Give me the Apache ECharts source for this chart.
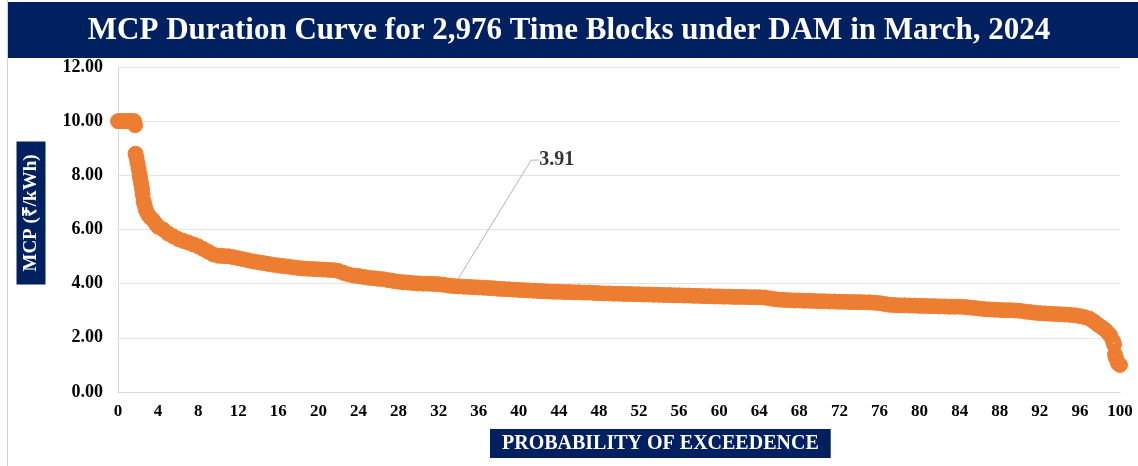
<!DOCTYPE html>
<html>
<head>
<meta charset="utf-8">
<title>MCP Duration Curve</title>
<script src="https://cdn.jsdelivr.net/npm/echarts@6/dist/echarts.min.js"></script>
<style>
  html, body { margin: 0; padding: 0; background: #fff; }
  #chart { width: 1138px; height: 466px; }
</style>
</head>
<body>
<div id="chart"></div>
<script>
// [probability of exceedence %, MCP Rs/kWh]
const capBlocks = [
  [0, 10.00], [0.2, 10.00], [0.4, 10.00], [0.6, 10.00], [0.8, 10.00],
  [1.0, 10.00], [1.2, 10.00], [1.4, 10.00], [1.6, 10.00], [1.7, 9.85]
]
const steepDrop = [
  [1.75, 8.80], [1.85, 8.65], [1.95, 8.45], [2.05, 8.25], [2.15, 8.05],
  [2.2, 7.90], [2.3, 7.70], [2.4, 7.50], [2.45, 7.30], [2.55, 7.05],
  [2.65, 6.90], [2.8, 6.70], [3.0, 6.55], [3.2, 6.45], [3.5, 6.35],
  [3.8, 6.20], [4.0, 6.10]
]
const bodyCurve = [
  [4.5, 6.00], [5.0, 5.85], [5.5, 5.75], [6.0, 5.65], [6.5, 5.58],
  [7.0, 5.52], [7.5, 5.45], [8.0, 5.38], [8.5, 5.28], [9.0, 5.18],
  [9.5, 5.08], [10.0, 5.03], [10.5, 5.02], [11.0, 5.01], [11.5, 4.98],
  [12.0, 4.94], [12.5, 4.90], [13.0, 4.86], [13.5, 4.82], [14.0, 4.79],
  [14.5, 4.76], [15.0, 4.73], [15.5, 4.70], [16.0, 4.67], [16.5, 4.65],
  [17.0, 4.63], [17.5, 4.60], [18.0, 4.58], [18.5, 4.56], [19.0, 4.55],
  [19.5, 4.54], [20.0, 4.53], [20.5, 4.52], [21.0, 4.51], [21.5, 4.50],
  [22.0, 4.47], [22.5, 4.40], [23.0, 4.34], [23.5, 4.30], [24.0, 4.28],
  [24.5, 4.25], [25.0, 4.22], [25.5, 4.20], [26.0, 4.18], [26.5, 4.16],
  [27.0, 4.13], [27.5, 4.10], [28.0, 4.07], [28.5, 4.05], [29.0, 4.04],
  [29.5, 4.02], [30.0, 4.01], [30.5, 4.00], [31.0, 4.00], [31.5, 3.99],
  [32.0, 3.98], [32.5, 3.96], [33.0, 3.93], [33.5, 3.91], [34.0, 3.90],
  [34.5, 3.89], [35.0, 3.88], [35.5, 3.87], [36.0, 3.86], [36.5, 3.85],
  [37.0, 3.84], [37.5, 3.83], [38.0, 3.81], [38.5, 3.80], [39.0, 3.79],
  [39.5, 3.78], [40.0, 3.77], [40.5, 3.76], [41.0, 3.75], [41.5, 3.74],
  [42.0, 3.73], [42.5, 3.72], [43.0, 3.71], [43.5, 3.70], [44.0, 3.70],
  [44.5, 3.69], [45.0, 3.69], [45.5, 3.68], [46.0, 3.68], [46.5, 3.67],
  [47.0, 3.67], [47.5, 3.66], [48.0, 3.65], [48.5, 3.64], [49.0, 3.64],
  [49.5, 3.63], [50.0, 3.63], [50.5, 3.62], [51.0, 3.62], [51.5, 3.61],
  [52.0, 3.61], [52.5, 3.60], [53.0, 3.60], [53.5, 3.59], [54.0, 3.59],
  [54.5, 3.58], [55.0, 3.58], [55.5, 3.57], [56.0, 3.57], [56.5, 3.56],
  [57.0, 3.56], [57.5, 3.55], [58.0, 3.55], [58.5, 3.54], [59.0, 3.54],
  [59.5, 3.53], [60.0, 3.53], [60.5, 3.52], [61.0, 3.52], [61.5, 3.51],
  [62.0, 3.51], [62.5, 3.51], [63.0, 3.50], [63.5, 3.50], [64.0, 3.50],
  [64.5, 3.49], [65.0, 3.46], [65.5, 3.43], [66.0, 3.41], [66.5, 3.40],
  [67.0, 3.39], [67.5, 3.38], [68.0, 3.38], [68.5, 3.37], [69.0, 3.37],
  [69.5, 3.36], [70.0, 3.35], [70.5, 3.35], [71.0, 3.34], [71.5, 3.34],
  [72.0, 3.33], [72.5, 3.33], [73.0, 3.32], [73.5, 3.32], [74.0, 3.32],
  [74.5, 3.31], [75.0, 3.31], [75.5, 3.30], [76.0, 3.28], [76.5, 3.25],
  [77.0, 3.22], [77.5, 3.21], [78.0, 3.20], [78.5, 3.20], [79.0, 3.19],
  [79.5, 3.19], [80.0, 3.18], [80.5, 3.18], [81.0, 3.17], [81.5, 3.17],
  [82.0, 3.16], [82.5, 3.16], [83.0, 3.15], [83.5, 3.15], [84.0, 3.15],
  [84.5, 3.14], [85.0, 3.12], [85.5, 3.10], [86.0, 3.08], [86.5, 3.06],
  [87.0, 3.05], [87.5, 3.04], [88.0, 3.03], [88.5, 3.02], [89.0, 3.02],
  [89.5, 3.01], [90.0, 3.00], [90.5, 2.97], [91.0, 2.95], [91.5, 2.93],
  [92.0, 2.91], [92.5, 2.90], [93.0, 2.89], [93.5, 2.88], [94.0, 2.87],
  [94.5, 2.86], [95.0, 2.85], [95.5, 2.83], [96.0, 2.80], [96.5, 2.76],
  [97.0, 2.70]
]
const tailDrop = [
  [97.4, 2.60], [97.8, 2.48], [98.2, 2.38], [98.5, 2.30], [98.8, 2.18],
  [99.0, 2.10], [99.3, 1.88], [99.4, 1.75], [99.5, 1.38], [99.6, 1.25],
  [99.8, 1.06], [100, 1.00]
]
const callout = [[33.5, 3.91]]

const titleText = 'MCP Duration Curve for 2,976 Time Blocks under DAM in March, 2024'
const yName = 'MCP (₹/kWh)'
const xName = 'PROBABILITY OF EXCEEDENCE'

const navy = '#002060'
const orange = '#ED7D31'
const serif = 'Liberation Serif, Times New Roman, serif'

// Excel-style marker: solid rim, lighter see-through centre
const markerFill = {
  type: 'radial', x: 0.5, y: 0.5, r: 0.5,
  colorStops: [
    { offset: 0, color: 'rgba(237,125,49,0.1)' },
    { offset: 0.25, color: 'rgba(237,125,49,0.5)' },
    { offset: 0.45, color: 'rgba(237,125,49,1)' },
    { offset: 1, color: 'rgba(237,125,49,1)' }
  ]
}

const chart = echarts.init(document.getElementById('chart'))

chart.setOption({
  animation: false,
  graphic: [
    { type: 'rect', left: 8, top: 2, shape: { width: 1130, height: 56 }, style: { fill: navy } },
    { type: 'line', shape: { x1: 7.5, y1: 0, x2: 7.5, y2: 466 }, style: { stroke: '#d0d0d0', lineWidth: 1 } },
    {
      type: 'text', x: 31, y: 213, rotation: Math.PI / 2,
      style: {
        text: yName, fill: '#fff', fontSize: 19, fontWeight: 'bold', fontFamily: serif,
        backgroundColor: navy, padding: [5, 13, 5, 13], align: 'center', verticalAlign: 'middle'
      }
    }
  ],
  title: [
    {
      text: titleText, left: 'center', top: 10,
      textStyle: { color: '#fff', fontSize: 31, fontWeight: 'bold', fontFamily: serif }
    },
    {
      text: xName, left: 490, top: 429, padding: [5, 12, 4, 12],
      backgroundColor: navy,
      textStyle: { color: '#fff', fontSize: 20, fontWeight: 'bold', fontFamily: serif }
    }
  ],
  grid: { left: 118, right: 18, top: 67, bottom: 74 },
  xAxis: {
    type: 'value', min: 0, max: 100, interval: 4,
    axisLine: { show: true, lineStyle: { color: '#d9d9d9' } },
    axisTick: { show: false },
    splitLine: { show: false },
    axisLabel: { color: '#000', fontSize: 17, fontWeight: 'bold', fontFamily: serif, margin: 11 }
  },
  yAxis: {
    type: 'value', min: 0, max: 12, interval: 2,
    axisLine: { show: true, lineStyle: { color: '#d9d9d9' } },
    axisTick: { show: false },
    splitLine: { lineStyle: { color: '#e3e3e3' } },
    axisLabel: {
      color: '#000', fontSize: 18, fontWeight: 'bold', fontFamily: serif, margin: 15,
      formatter: v => v.toFixed(2)
    }
  },
  series: [
    {
      type: 'scatter', symbol: 'circle', symbolSize: 15,
      data: [...capBlocks, ...steepDrop, ...bodyCurve, ...tailDrop],
      itemStyle: { color: markerFill, borderColor: orange, borderWidth: 1, opacity: 1 }
    },
    {
      type: 'scatter', symbolSize: 1, data: callout,
      itemStyle: { color: 'rgba(0,0,0,0)' },
      label: {
        show: true, position: 'right', formatter: '3.91',
        color: '#000', fontSize: 20, fontWeight: 'bold', fontFamily: serif
      },
      labelLayout: { dx: 80, dy: -126 },
      labelLine: { show: true, length2: 8, lineStyle: { color: '#b4b4b4', width: 1 } }
    }
  ]
})
</script>
</body>
</html>
